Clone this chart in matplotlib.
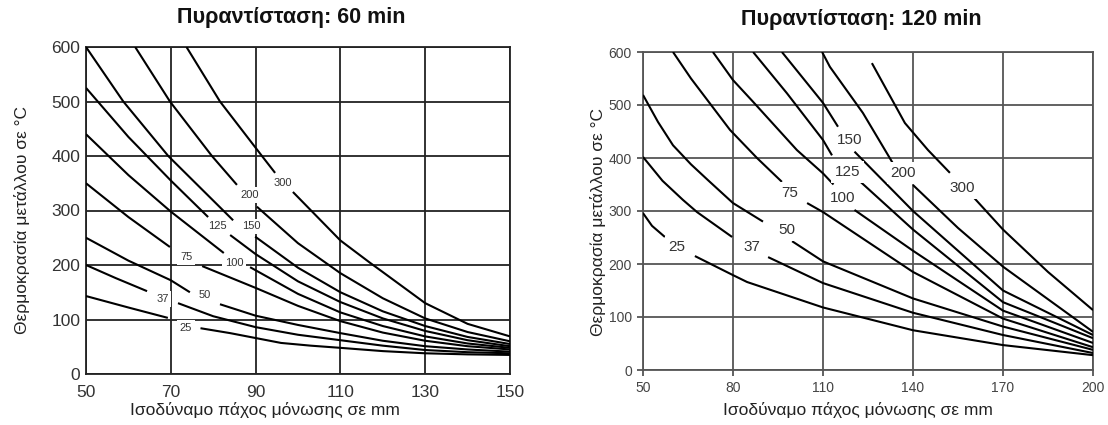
import matplotlib
matplotlib.use("Agg")
import matplotlib.pyplot as plt

plt.rcParams['font.family'] = ['Liberation Sans', 'DejaVu Sans']

# ---------------- data: left chart (60 min) ----------------
curve_labels = ['25', '37', '50', '75', '100', '125', '150', '200', '300']

left_x_before = [
    [50, 60, 69.3],
    [50, 57, 64.4],
    [50, 60, 70, 74.5],
    [50, 60, 69.8],
    [50, 60, 70, 82.5],
    [50, 60, 70, 78.8],
    [50, 58.8, 69.4, 84.7],
    [61.6, 69.8, 79.7, 85.6],
    [73.7, 81.6, 91.5, 94.6],
]
left_t_before = [
    [143, 122, 103],
    [200, 176, 152],
    [250, 208, 172, 150],
    [350, 288, 233],
    [440, 365, 298, 222],
    [525, 435, 355, 288],
    [600, 500, 400, 282],
    [600, 500, 400, 347],
    [600, 500, 400, 369],
]
left_x_after = [
    [77, 84, 90, 96, 103, 110, 120, 130, 140, 150],
    [71.7, 80, 90, 100, 110, 120, 130, 140, 150],
    [81.6, 90, 100, 110, 120, 130, 140, 150],
    [77.4, 90, 100, 110, 120, 130, 140, 150],
    [88.7, 100, 110, 120, 130, 140, 150],
    [84, 90, 100, 110, 120, 130, 140, 150],
    [89.9, 100, 110, 120, 130, 140, 150],
    [90.3, 100, 110, 120, 130, 140, 150],
    [98.8, 110, 117, 120, 130, 140, 150],
]
left_t_after = [
    [84, 75, 66, 57, 52, 48, 42, 38, 36, 35],
    [130, 106, 86, 72, 62, 52, 44, 40, 38],
    [128, 107, 90, 75, 61, 51, 45, 41],
    [198, 158, 125, 97, 76, 61, 51, 45],
    [196, 147, 113, 88, 69, 56, 48],
    [255, 220, 170, 132, 102, 79, 62, 51],
    [252, 195, 150, 115, 88, 68, 55],
    [307, 240, 185, 139, 102, 77, 60],
    [334, 245, 204, 187, 130, 92, 69],
]
left_label_x = [73.6, 68, 78, 73.6, 85, 80.9, 89, 88.7, 96.5]
left_label_t = [84, 138, 145, 215, 204, 271, 271, 328, 350]
left_xticks = [50, 70, 90, 110, 130, 150]
left_yticks = [0, 100, 200, 300, 400, 500, 600]

# ---------------- data: right chart (120 min) ----------------
right_x_before = [
    [50, 53, 57.3],
    [50, 56.5, 63.3, 68, 79.7],
    [50, 55, 60, 66, 71.7, 80, 90],
    [60, 66, 72.3, 79, 88, 96.3],
    [73.3, 80, 86.7, 101.3, 110, 113.5],
    [86.7, 98, 110, 113],
    [96.3, 110, 115],
    [109.7, 112.3, 123.3, 133.3],
    [126.3, 137.3, 145, 152.3],
]
right_t_before = [
    [296, 272, 251],
    [402, 357, 321, 298, 251],
    [519, 468, 424, 388, 358, 315, 280],
    [600, 550, 503, 453, 400, 355],
    [600, 547, 506, 415, 371, 350],
    [600, 522, 434, 405],
    [600, 504, 459],
    [600, 572, 485, 390],
    [579, 466, 415, 372],
]
right_x_after = [
    [67.3, 80, 84.7, 110, 140, 170, 200],
    [91.7, 110, 140, 170, 200],
    [99.7, 110, 140, 170, 200],
    [104.7, 110, 140, 170, 200],
    [120.5, 140, 170, 200],
    [122.5, 140, 170, 200],
    [120.5, 140, 170, 200],
    [140, 155, 170, 200],
    [160, 170, 185, 200],
]
right_t_after = [
    [215, 179, 166, 118, 75, 47, 28],
    [213, 164, 108, 66, 32],
    [243, 205, 135, 82, 38],
    [315, 298, 185, 97, 43],
    [302, 225, 112, 51],
    [355, 265, 128, 60],
    [412, 300, 150, 66],
    [349, 268, 195, 72],
    [327, 265, 185, 113],
]
right_label_x = [61.3, 86.3, 98, 99, 116.7, 118.3, 119, 136.7, 156.3]
right_label_t = [232, 232, 264, 334, 325, 374, 434, 372, 343]
right_xticks = [50, 80, 110, 140, 170, 200]
right_yticks = [0, 100, 200, 300, 400, 500, 600]

title_left = 'Πυραντίσταση: 60 min'
title_right = 'Πυραντίσταση: 120 min'
xlabel_text = 'Ισοδύναμο πάχος μόνωσης σε mm'
ylabel_text = 'Θερμοκρασία μετάλλου σε °C'

# ---------------- figure ----------------
fig = plt.figure(figsize=(11.08, 4.25), dpi=100)
axL = fig.add_axes([86 / 1108, 1 - 374 / 425, 424 / 1108, 327 / 425])
axR = fig.add_axes([643 / 1108, 1 - 370 / 425, 450 / 1108, 318 / 425])


def draw(ax, xb, tb, xa, ta, lx, lt, xticks, yticks, lab_fs, tick_fs, grid_col,
         grid_lw, tick_col, ticklen, xpad):
    ax.set_xlim(xticks[0], xticks[-1])
    ax.set_ylim(yticks[0], yticks[-1])
    ax.set_xticks(xticks)
    ax.set_yticks(yticks)
    ax.grid(True, color=grid_col, linewidth=grid_lw, zorder=1)
    ax.set_axisbelow(True)
    for s in ax.spines.values():
        s.set_color(grid_col)
        s.set_linewidth(grid_lw)
    ax.tick_params(length=ticklen, width=grid_lw, color=grid_col,
                   labelsize=tick_fs, labelcolor=tick_col, pad=4)
    ax.tick_params(axis='x', pad=xpad)
    for i in range(len(xb)):
        ax.plot(xb[i], tb[i], color='black', lw=1.5, zorder=3,
                solid_capstyle='butt', solid_joinstyle='round', clip_on=True)
        ax.plot(xa[i], ta[i], color='black', lw=1.5, zorder=3,
                solid_capstyle='butt', solid_joinstyle='round', clip_on=True)
        ax.text(lx[i], lt[i], curve_labels[i], fontsize=lab_fs, color='#333333',
                ha='center', va='center', zorder=5,
                bbox=dict(boxstyle='square,pad=0.25', fc='white', ec='none'))


draw(axL, left_x_before, left_t_before, left_x_after, left_t_after,
     left_label_x, left_label_t, left_xticks, left_yticks,
     8, 12.5, '#222222', 1.3, '#333333', 0, 8)
draw(axR, right_x_before, right_t_before, right_x_after, right_t_after,
     right_label_x, right_label_t, right_xticks, right_yticks,
     11, 10, '#555555', 1.3, '#444444', 4, 4)

fig.text(291 / 1108, 1 - 18 / 425, title_left, fontsize=15.5, fontweight='bold',
         ha='center', va='center', color='#111111')
fig.text(861 / 1108, 1 - 20 / 425, title_right, fontsize=15.5, fontweight='bold',
         ha='center', va='center', color='#111111')
fig.text(265 / 1108, 1 - 410 / 425, xlabel_text, fontsize=12.5,
         ha='center', va='center', color='#222222')
fig.text(858 / 1108, 1 - 410 / 425, xlabel_text, fontsize=12.5,
         ha='center', va='center', color='#222222')
fig.text(22 / 1108, 1 - 220 / 425, ylabel_text, fontsize=12.5, rotation=90,
         ha='center', va='center', color='#222222')
fig.text(598 / 1108, 1 - 222 / 425, ylabel_text, fontsize=12.5, rotation=90,
         ha='center', va='center', color='#222222')

fig.savefig('out.png', dpi=100, facecolor='white')
